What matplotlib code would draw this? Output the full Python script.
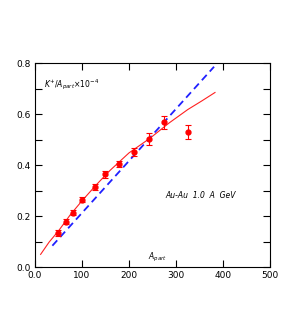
import matplotlib
matplotlib.use('Agg')
import matplotlib.pyplot as plt
import numpy as np

# measured points
a_part = [50, 65, 80, 100, 127, 150, 179, 211, 243, 274, 325]
k_ratio = [0.134, 0.178, 0.214, 0.265, 0.313, 0.364, 0.405, 0.453, 0.503, 0.568, 0.531]
k_err = [0.010, 0.010, 0.010, 0.011, 0.012, 0.013, 0.013, 0.016, 0.024, 0.026, 0.028]

# red curve
fit_x = [12, 30, 50, 75, 100, 130, 160, 200, 245, 285, 325, 355, 383]
fit_y = [0.050, 0.098, 0.142, 0.205, 0.260, 0.322, 0.380, 0.448, 0.506, 0.565, 0.618, 0.652, 0.685]

# blue dashed line
lin_x = [37, 381]
lin_y = [0.084, 0.786]

xticks = [0, 100, 200, 300, 400, 500]
xticklabels = ['0.0', '100', '200', '300', '400', '500']
yticks = [0.0, 0.2, 0.4, 0.6, 0.8]
yticklabels = ['0.0', '0.2', '0.4', '0.6', '0.8']

fig = plt.figure(figsize=(2.99, 3.36), dpi=100)
ax = fig.add_axes([0.117, 0.205, 0.786, 0.607])

ax.plot(lin_x, lin_y, color='#2020ff', linestyle=(0, (4, 2.5)), linewidth=1.3)
ax.plot(fit_x, fit_y, color='#ff2020', linewidth=0.8)
ax.errorbar(a_part, k_ratio, yerr=k_err, fmt='o', color='#ff0000',
            markersize=3.5, elinewidth=0.8, capsize=2, capthick=0.8)

ax.set_xlim(0, 500)
ax.set_ylim(0, 0.8)
ax.set_xticks(xticks)
ax.set_xticklabels(xticklabels)
ax.set_yticks(yticks)
ax.set_yticklabels(yticklabels)
ax.set_yticks(np.arange(0.1, 0.8, 0.2), minor=True)
ax.tick_params(axis='both', which='both', direction='in', top=True, right=True,
               length=5, width=0.8, labelsize=6.5, pad=3)
for s in ax.spines.values():
    s.set_linewidth(0.8)

ax.text(20, 0.705, r'$K^{+}/A_{part}{\times}10^{-4}$', fontsize=5.5, style='italic')
ax.text(240, 0.03, r'$A_{part}$', fontsize=5.5)
ax.text(352, 0.282, 'Au-Au  1.0  A  GeV', fontsize=5.5, style='italic', ha='center', va='center')

fig.savefig('out.png', dpi=100)
